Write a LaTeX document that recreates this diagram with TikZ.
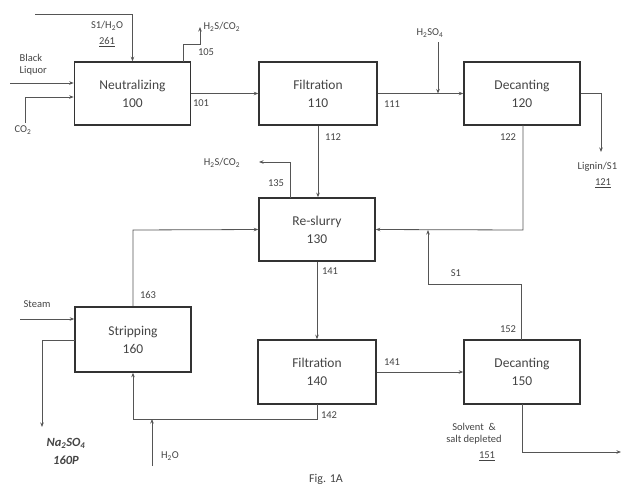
\documentclass[tikz,border=0pt]{standalone}
\usepackage{fontspec}
\setmainfont{Carlito}
\usetikzlibrary{arrows.meta,calc}
\definecolor{boxc}{HTML}{333333}
\definecolor{linec}{HTML}{555555}
\definecolor{txtc}{HTML}{444444}
\tikzset{
  procbox/.style={draw=boxc,line width=1.6pt,minimum width=116pt,minimum height=63pt,inner sep=0pt,align=center,font=\fontsize{13.5}{18}\selectfont,text=txtc},
  conn/.style={draw=linec,line width=0.8pt},
  arr/.style={conn,-{Stealth[length=4.5pt,width=3.5pt]}},
  lbl/.style={font=\fontsize{10.5}{12}\selectfont,text=txtc,inner sep=0.5pt},
}
\begin{document}
\begin{tikzpicture}[x=1pt,y=-1pt]
\useasboundingbox (0,0) rectangle (625,488);
\clip (0,0) rectangle (625,488);
% boxes
\node[procbox] (n100) at (132.5,93.5) {Neutralizing\\100};
\node[procbox,minimum width=118pt] (n110) at (318,93.5) {Filtration\\110};
\node[procbox] (n120) at (522,93.5) {Decanting\\120};
\node[procbox] (n130) at (317,229.5) {Re-slurry\\130};
\node[procbox,minimum height=65pt] (n160) at (133,339.5) {Stripping\\160};
\node[procbox,minimum width=118pt,minimum height=64pt] (n140) at (317,372) {Filtration\\140};
\node[procbox,minimum height=64pt] (n150) at (522,372) {Decanting\\150};
% coordinates
\coordinate (s1in) at (35,14);
\coordinate (c105a) at (183,62);
\coordinate (c105b) at (200,44);
\coordinate (c105c) at (200,27);
\coordinate (blin) at (10,83);
\coordinate (co2in) at (25,123);
\coordinate (h2so4in) at (438,42);
\coordinate (j111) at (438,93.5);
\coordinate (c121a) at (601,93.5);
\coordinate (c121b) at (601,152);
\coordinate (c122a) at (523,125);
\coordinate (j122) at (523,230);
\coordinate (c135a) at (290,198);
\coordinate (c135b) at (259,162);
\coordinate (c152a) at (521,340);
\coordinate (c152b) at (428,284);
\coordinate (jS1) at (428,230);
\coordinate (c142a) at (317,404);
\coordinate (c142b) at (133,419);
\coordinate (h2oin) at (152,466);
\coordinate (jh2o) at (152,419);
\coordinate (c163) at (133,230);
\coordinate (steamin) at (20,319);
\coordinate (c160a) at (75,340);
\coordinate (c160b) at (42,340);
\coordinate (c160c) at (42,427);
\coordinate (c151a) at (522,404);
\coordinate (c151b) at (621,452);
% connectors
\draw[arr] (s1in) -| (n100.north);
\draw[arr] (c105a) |- (c105b) -- (c105c);
\draw[arr] (blin) -- (blin -| n100.west);
\draw[arr] (co2in) |- ($(n100.west)+(0,3.5)$);
\draw[arr] (n100.east) -- (n110.west);
\draw[arr] (n110.east) -- (n120.west);
\draw[arr] (h2so4in) -- (j111);
\draw[arr] (n120.east) -- (c121a) -- (c121b);
\draw[arr] (n110.south) -- (n110.south |- n130.north);
\draw[arr] (c122a) -- (j122) -- (n130.east);
\draw[arr] (c152a) |- (c152b) -- (jS1);
\draw[arr] (c135a) |- (c135b);
\draw[arr] (n130.south) -- (n140.north);
\draw[arr] (n140.east) -- (n150.west);
\draw[arr] (c142a) |- (c142b) -- (n160.south);
\draw[arr] (h2oin) -- (jh2o);
\draw[arr] (n160.north) -- (c163) -- (n130.west);
\draw[arr] (steamin) -- (steamin -| n160.west);
\draw[arr] (c160a) -- (c160b) -- (c160c);
\draw[arr] (c151a) |- (c151b);
% labels
\node[lbl] (t261a) at (107,26) {S1/H\textsubscript{2}O};
\node[lbl] (t261b) at (107,42) {\underline{261}};
\node[lbl] (t105) at (206,52) {105};
\node[lbl,anchor=west] (t105g) at (203,27) {H\textsubscript{2}S/CO\textsubscript{2}};
\node[lbl,align=left,anchor=west] (tbl) at (19,65) {Black\\Liquor};
\node[lbl] (tco2) at (23,130) {CO\textsubscript{2}};
\node[lbl] (t101) at (201,103) {101};
\node[lbl] (t111) at (392,104) {111};
\node[lbl] (th2so4) at (430,33) {H\textsubscript{2}SO\textsubscript{4}};
\node[lbl] (t112) at (333,137) {112};
\node[lbl] (t122) at (508,137) {122};
\node[lbl,anchor=west] (tlig) at (577,167) {Lignin/S1};
\node[lbl] (t121) at (603,183) {\underline{121}};
\node[lbl] (th2s) at (222,163) {H\textsubscript{2}S/CO\textsubscript{2}};
\node[lbl] (t135) at (276,183) {135};
\node[lbl] (t141a) at (330,271) {141};
\node[lbl] (tS1) at (456,273) {S1};
\node[lbl] (t152) at (508,329) {152};
\node[lbl] (t163) at (148,295) {163};
\node[lbl] (tsteam) at (37,304) {Steam};
\node[lbl,font=\fontsize{12.5}{14}\selectfont\bfseries\itshape] (tna) at (66,443) {Na\textsubscript{2}SO\textsubscript{4}};
\node[lbl,font=\fontsize{12.5}{14}\selectfont\bfseries\itshape] (t160p) at (66,460) {160P};
\node[lbl] (t141b) at (392,362) {141};
\node[lbl] (t142) at (329,415) {142};
\node[lbl] (th2o) at (170,456) {H\textsubscript{2}O};
\node[lbl,align=center] (tsolv) at (474,434) {Solvent \ \&\\salt depleted};
\node[lbl] (t151) at (487,456) {\underline{151}};
\node[lbl,font=\fontsize{12}{14}\selectfont] (tfig) at (326,479) {Fig. 1A};
\end{tikzpicture}
\end{document}
